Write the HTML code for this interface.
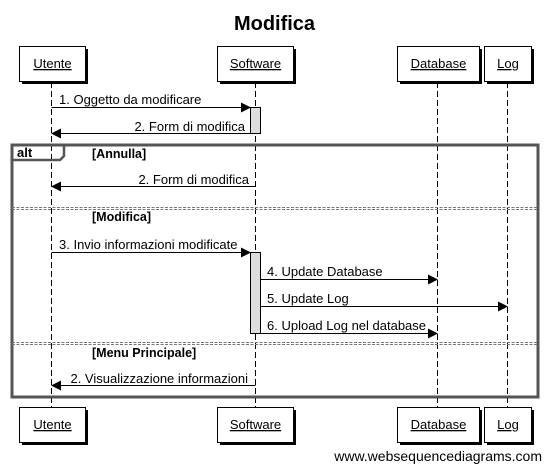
<!DOCTYPE html>
<html><head><meta charset="utf-8"><style>
html,body{margin:0;padding:0;background:#fff;width:547px;height:464px;overflow:hidden}
svg{display:block;font-family:"Liberation Sans",Arial,sans-serif}
</style></head><body>
<svg width="547" height="464" viewBox="0 0 547 464" xmlns="http://www.w3.org/2000/svg">
<defs>
<marker id="a" markerWidth="10" markerHeight="10" refX="9" refY="5" orient="auto" markerUnits="userSpaceOnUse"><path d="M0,0 L10,5 L0,10 z" fill="#000"/></marker>
</defs>
<text x="274.5" y="30" font-size="20" font-weight="bold" text-anchor="middle">Modifica</text>
<g stroke="#000" stroke-width="1" stroke-dasharray="6,3">
<line x1="51.5" y1="82" x2="51.5" y2="408"/>
<line x1="255.5" y1="82" x2="255.5" y2="408"/>
<line x1="437.5" y1="82" x2="437.5" y2="408"/>
<line x1="507.5" y1="82" x2="507.5" y2="408"/>
</g>
<g font-size="13" text-anchor="middle">
<g>
<rect x="22" y="49" width="66" height="35" fill="#000"/><rect x="19.5" y="46.5" width="66" height="35" fill="#fff" stroke="#000"/>
<text x="52.5" y="68" text-decoration="underline">Utente</text>
<rect x="220" y="49" width="76" height="35" fill="#000"/><rect x="217.5" y="46.5" width="76" height="35" fill="#fff" stroke="#000"/>
<text x="255.5" y="68" text-decoration="underline">Software</text>
<rect x="400" y="49" width="82" height="35" fill="#000"/><rect x="397.5" y="46.5" width="82" height="35" fill="#fff" stroke="#000"/>
<text x="438.5" y="68" text-decoration="underline">Database</text>
<rect x="487" y="49" width="47" height="35" fill="#000"/><rect x="484.5" y="46.5" width="47" height="35" fill="#fff" stroke="#000"/>
<text x="508" y="68" text-decoration="underline">Log</text>
</g>
<g>
<rect x="22" y="410" width="66" height="35" fill="#000"/><rect x="19.5" y="407.5" width="66" height="35" fill="#fff" stroke="#000"/>
<text x="52.5" y="429" text-decoration="underline">Utente</text>
<rect x="220" y="410" width="76" height="35" fill="#000"/><rect x="217.5" y="407.5" width="76" height="35" fill="#fff" stroke="#000"/>
<text x="255.5" y="429" text-decoration="underline">Software</text>
<rect x="400" y="410" width="82" height="35" fill="#000"/><rect x="397.5" y="407.5" width="82" height="35" fill="#fff" stroke="#000"/>
<text x="438.5" y="429" text-decoration="underline">Database</text>
<rect x="487" y="410" width="47" height="35" fill="#000"/><rect x="484.5" y="407.5" width="47" height="35" fill="#fff" stroke="#000"/>
<text x="508" y="429" text-decoration="underline">Log</text>
</g>
</g>
<rect x="250.5" y="107.5" width="10" height="26" fill="#ddd" stroke="#000"/>
<rect x="250.5" y="252.5" width="10" height="81" fill="#ddd" stroke="#000"/>
<rect x="12" y="145" width="526" height="252" fill="none" stroke="#555" stroke-width="3"/>
<path d="M12,160 L60,160 L64,156 L64,145" fill="none" stroke="#555" stroke-width="2.5"/>
<text x="17" y="157" font-size="13" font-weight="bold">alt</text>
<g stroke="#777" stroke-width="1" stroke-dasharray="3,1.5">
<line x1="12" y1="207.5" x2="538" y2="207.5"/><line x1="12" y1="209.5" x2="538" y2="209.5"/>
<line x1="12" y1="342.5" x2="538" y2="342.5"/><line x1="12" y1="344.5" x2="538" y2="344.5"/>
</g>
<g font-size="12.5" font-weight="bold">
<text x="92" y="158">[Annulla]</text>
<text x="92" y="221">[Modifica]</text>
<text x="92" y="357">[Menu Principale]</text>
</g>
<g stroke="#000" stroke-width="1" marker-end="url(#a)">
<line x1="51.5" y1="107.5" x2="250" y2="107.5"/>
<line x1="250.5" y1="133.5" x2="52" y2="133.5"/>
<line x1="255.5" y1="186.5" x2="52" y2="186.5"/>
<line x1="51.5" y1="252.5" x2="250" y2="252.5"/>
<line x1="260.5" y1="279.5" x2="437" y2="279.5"/>
<line x1="260.5" y1="306.5" x2="507" y2="306.5"/>
<line x1="260.5" y1="333.5" x2="437" y2="333.5"/>
<line x1="255.5" y1="385.5" x2="52" y2="385.5"/>
</g>
<g font-size="13">
<text x="59" y="104">1. Oggetto da modificare</text>
<text x="245" y="131" text-anchor="end">2. Form di modifica</text>
<text x="249" y="184" text-anchor="end">2. Form di modifica</text>
<text x="59" y="249">3. Invio informazioni modificate</text>
<text x="267" y="276">4. Update Database</text>
<text x="267" y="303">5. Update Log</text>
<text x="267" y="330">6. Upload Log nel database</text>
<text x="248" y="383" text-anchor="end">2. Visualizzazione informazioni</text>
</g>
<text x="542" y="461" font-size="14" text-anchor="end">www.websequencediagrams.com</text>
</svg>
</body></html>
